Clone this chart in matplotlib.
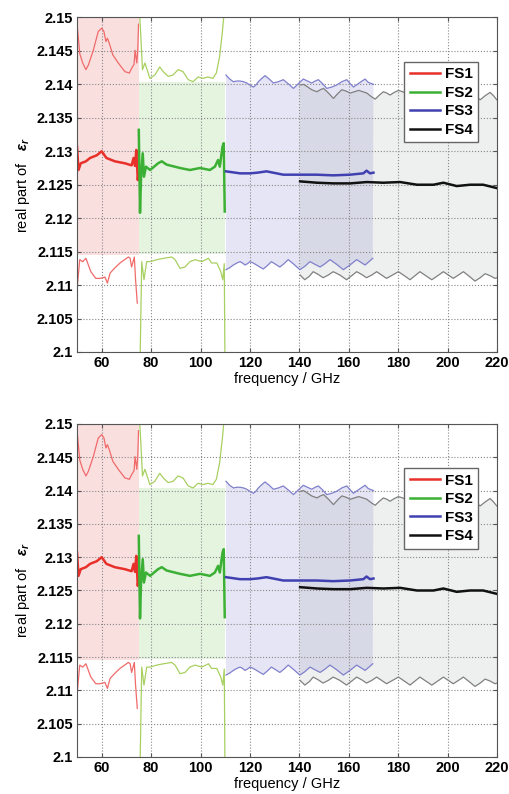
import numpy as np
import matplotlib.pyplot as plt

# FS1 (50-75 GHz)
fs1_mean_f = [50, 50.6, 51.5, 53.6, 55.3, 58, 60, 61.9, 65.3, 69.4, 72.1, 72.9, 73.5, 74, 74.6, 75]
fs1_mean = [2.1307, 2.1272, 2.1282, 2.1285, 2.1290, 2.1294, 2.1300, 2.1290, 2.1285, 2.1282, 2.1279, 2.1290, 2.1278, 2.1302, 2.1257, 2.1270]
fs1_up_f = [50, 51.1, 52.3, 53.6, 54.6, 56.6, 58.6, 60, 60.9, 61.7, 62.3, 63.1, 64.5, 66.7, 69.4, 71.2, 72.1, 73.1, 73.5, 74.2, 74.6, 74.9]
fs1_up = [2.1491, 2.1446, 2.1432, 2.1422, 2.1429, 2.1451, 2.1479, 2.1484, 2.1479, 2.1464, 2.1469, 2.1461, 2.1444, 2.1432, 2.1419, 2.1417, 2.1424, 2.1430, 2.1451, 2.1432, 2.1452, 2.1490]
fs1_lo_f = [50, 51.1, 52.3, 53.6, 55.6, 57.6, 59.3, 61.3, 62.3, 63.4, 65.4, 67.4, 70.8, 71.5, 72.1, 73.2, 73.7, 74.4]
fs1_lo = [2.1093, 2.1138, 2.1135, 2.1140, 2.1120, 2.1110, 2.1110, 2.1112, 2.1103, 2.1118, 2.1126, 2.1133, 2.1142, 2.1140, 2.1127, 2.1142, 2.1108, 2.1073]
fs1_fill = [2.1145, 2.1505]

# FS2 (75-110 GHz)
fs2_mean_f = [75, 75.5, 75.9, 76.6, 77.1, 77.9, 79.6, 82.8, 84.3, 86.3, 91.7, 95.7, 99.8, 103.8, 105.8, 107.1, 107.8, 108.9, 109.4, 109.8]
fs2_mean = [2.1332, 2.1208, 2.1260, 2.1297, 2.1262, 2.1277, 2.1272, 2.1282, 2.1285, 2.1280, 2.1275, 2.1272, 2.1275, 2.1272, 2.1277, 2.1287, 2.1277, 2.1307, 2.1312, 2.1210]
fs2_up_f = [75.1, 75.7, 76.5, 77.5, 79.5, 81.5, 83.5, 84.9, 86.9, 88.9, 90.9, 92.9, 95, 97, 99, 101, 103, 105, 106.4, 107.7, 108.8, 109.3, 109.8]
fs2_up = [2.1520, 2.1481, 2.1422, 2.1432, 2.1409, 2.1414, 2.1426, 2.1419, 2.1412, 2.1414, 2.1422, 2.1419, 2.1407, 2.1404, 2.1411, 2.1409, 2.1411, 2.1409, 2.1417, 2.1441, 2.1477, 2.1497, 2.1520]
fs2_lo_f = [75.5, 76.2, 77.1, 78.2, 79.6, 82.3, 85, 88.3, 89.7, 91.7, 93.7, 95.7, 97.8, 100.5, 103.2, 104.5, 106.6, 108.2, 109, 109.6, 109.9]
fs2_lo = [2.0980, 2.1135, 2.1108, 2.1135, 2.1135, 2.1138, 2.1140, 2.1142, 2.1138, 2.1125, 2.1127, 2.1135, 2.1138, 2.1135, 2.1140, 2.1133, 2.1133, 2.1120, 2.1108, 2.1132, 2.0980]
fs2_fill = [2.1147, 2.1404]

# FS3 (110-170 GHz)
fs3_up_f = [110.3, 111.8, 113.3, 114.7, 116, 117.4, 118.7, 120, 121.4, 122.4, 123.4, 124.8, 126.1, 127.8, 129.5, 131.5,
            133.5, 135.5, 137.6, 139.6, 141.6, 143.3, 145, 146.4, 147.7, 149.4, 151.1, 153.1, 155.1, 157.2, 159.2,
            160.6, 161.9, 164.2, 166.6, 167.9, 170]
fs3_up = [2.1414, 2.1408, 2.1404, 2.1405, 2.1405, 2.1404, 2.1402, 2.1399, 2.1396, 2.1399, 2.1404, 2.1409, 2.1413, 2.1408,
          2.1402, 2.1404, 2.1407, 2.1401, 2.1394, 2.1401, 2.1408, 2.1405, 2.1402, 2.1405, 2.1407, 2.1401, 2.1394,
          2.1396, 2.1399, 2.1404, 2.1407, 2.1401, 2.1396, 2.1402, 2.1408, 2.1403, 2.1400]
fs3_lo_f = [110.3, 111.8, 113.3, 114.7, 116, 117, 118, 119, 120, 121.3, 122.7, 124, 125.4, 127, 128.7, 130.4, 132.1,
            133.8, 135.5, 137.8, 140.2, 142.2, 144.3, 146.3, 148.4, 150.4, 152.4, 155.1, 157.8, 160.5, 163.2, 164.9,
            166.6, 168.2, 169.7]
fs3_lo = [2.1123, 2.1126, 2.1130, 2.1133, 2.1135, 2.1133, 2.1130, 2.1132, 2.1135, 2.1133, 2.1130, 2.1127, 2.1124,
          2.1129, 2.1135, 2.1131, 2.1127, 2.1132, 2.1138, 2.1131, 2.1123, 2.1128, 2.1135, 2.1131, 2.1127, 2.1132,
          2.1138, 2.1131, 2.1123, 2.1130, 2.1138, 2.1134, 2.1130, 2.1135, 2.1140]
fs3_mean_f = [110.3, 116, 120, 123, 126.7, 133.5, 140.2, 147, 153.7, 160.5, 165.9, 167.2, 168.6, 170]
fs3_mean = [2.1270, 2.1267, 2.1267, 2.1268, 2.1270, 2.1265, 2.1265, 2.1265, 2.1264, 2.1265, 2.1267, 2.1271, 2.1267, 2.1268]

# FS4 (140-220 GHz)
fs4_up_f = [140.3, 141.7, 143, 145, 147.1, 148.5, 149.8, 151.8, 153.8, 155.5, 157.2, 158.9, 160.6, 162.3, 164, 165.7,
            167.3, 169, 170.7, 172.4, 174, 175.4, 176.7, 178.4, 180.1, 181.8, 183.5, 184.9, 186.2, 189.5, 192.9,
            195.6, 198.3, 201, 203.7, 205.8, 207.8, 210.5, 213.2, 215.2, 217.2, 218.6, 219.9]
fs4_up = [2.1399, 2.1400, 2.1397, 2.1392, 2.1389, 2.1392, 2.1394, 2.1387, 2.1379, 2.1386, 2.1392, 2.1390, 2.1387,
          2.1389, 2.1391, 2.1389, 2.1387, 2.1382, 2.1378, 2.1384, 2.1389, 2.1387, 2.1384, 2.1388, 2.1391, 2.1389,
          2.1386, 2.1388, 2.1389, 2.1385, 2.1380, 2.1386, 2.1391, 2.1386, 2.1380, 2.1385, 2.1390, 2.1384, 2.1377,
          2.1383, 2.1388, 2.1383, 2.1377]
fs4_lo_f = [140.3, 142.2, 144, 145.6, 147.6, 149.6, 151.7, 153.7, 156.4, 159.1, 161.2, 163.2, 165.2, 167.2, 169.3,
            171.3, 173.3, 175.3, 177.7, 180.1, 182.5, 184.8, 186.8, 188.8, 191.2, 193.6, 196, 198.3, 200.3, 202.3,
            204.4, 206.4, 208.8, 211.1, 213.2, 215.2, 217.2, 219.2, 220]
fs4_lo = [2.1115, 2.1108, 2.1113, 2.1120, 2.1116, 2.1111, 2.1115, 2.1120, 2.1115, 2.1108, 2.1114, 2.1120, 2.1116,
          2.1111, 2.1115, 2.1120, 2.1115, 2.1110, 2.1115, 2.1120, 2.1114, 2.1108, 2.1114, 2.1120, 2.1114, 2.1108,
          2.1114, 2.1120, 2.1115, 2.1110, 2.1115, 2.1120, 2.1113, 2.1106, 2.1111, 2.1117, 2.1114, 2.1110, 2.1111]
fs4_mean_f = [140.3, 147.1, 153.8, 160.6, 167.3, 174, 180.8, 187.6, 194.3, 198.3, 203.7, 209.1, 214.4, 219.9]
fs4_mean = [2.1255, 2.1253, 2.1252, 2.1252, 2.1254, 2.1253, 2.1254, 2.1250, 2.1250, 2.1253, 2.1248, 2.1250, 2.1250, 2.1245]

xticks = [60, 80, 100, 120, 140, 160, 180, 200, 220]
yticks = [2.1, 2.105, 2.11, 2.115, 2.12, 2.125, 2.13, 2.135, 2.14, 2.145, 2.15]
ytick_labels = ['2.1', '2.105', '2.11', '2.115', '2.12', '2.125', '2.13', '2.135', '2.14', '2.145', '2.15']

plt.rcParams['font.family'] = ['Liberation Sans', 'DejaVu Sans']
plt.rcParams['font.weight'] = 'bold'
plt.rcParams['mathtext.fontset'] = 'custom'
plt.rcParams['mathtext.it'] = 'Liberation Sans:italic'

fig = plt.figure(figsize=(5.1, 7.94), dpi=100)
ax1 = fig.add_axes([0.151, 0.5567, 0.8235, 0.4213])
ax2 = fig.add_axes([0.151, 0.0466, 0.8235, 0.4194])


def band(ax, up_f, up, lo_f, lo, color, alpha):
    ax.fill(np.r_[up_f, lo_f[::-1]], np.r_[up, lo[::-1]], color=color, alpha=alpha, lw=0)


def panel(ax):
    ax.fill_between([50, 75], fs1_fill[0], fs1_fill[1], color='#e85050', alpha=0.18, lw=0)
    ax.fill_between([75, 110], fs2_fill[0], fs2_fill[1], color='#88d070', alpha=0.22, lw=0)
    band(ax, fs3_up_f, fs3_up, fs3_lo_f, fs3_lo, '#6868c8', 0.17)
    band(ax, fs4_up_f, fs4_up, fs4_lo_f, fs4_lo, '#8a9090', 0.14)

    ax.plot(fs1_up_f, fs1_up, color='#f06a6a', lw=0.9)
    ax.plot(fs1_lo_f, fs1_lo, color='#f06a6a', lw=0.9)
    ax.plot(fs2_up_f, fs2_up, color='#a8d060', lw=0.9)
    ax.plot(fs2_lo_f, fs2_lo, color='#a8d060', lw=0.9)
    ax.plot(fs3_up_f, fs3_up, color='#8080cc', lw=0.9)
    ax.plot(fs3_lo_f, fs3_lo, color='#8080cc', lw=0.9)
    ax.plot(fs4_up_f, fs4_up, color='#808080', lw=0.9)
    ax.plot(fs4_lo_f, fs4_lo, color='#808080', lw=0.9)

    ax.plot(fs1_mean_f, fs1_mean, color='#e8302a', lw=1.8, label='FS1')
    ax.plot(fs2_mean_f, fs2_mean, color='#3cb034', lw=1.8, label='FS2')
    ax.plot(fs3_mean_f, fs3_mean, color='#4040b0', lw=1.8, label='FS3')
    ax.plot(fs4_mean_f, fs4_mean, color='#111111', lw=1.8, label='FS4')

    ax.set_xlim(50, 220)
    ax.set_ylim(2.1, 2.15)
    ax.set_xticks(xticks)
    ax.set_yticks(yticks)
    ax.set_yticklabels(ytick_labels)
    ax.tick_params(direction='in', top=True, right=True, labelsize=10.5, length=3, pad=3, color='#555555')
    ax.grid(True, linestyle=':', color='#888888', lw=0.8)
    for s in ax.spines.values():
        s.set_color('#555555')
    ax.set_xlabel('frequency / GHz', fontsize=10.5, labelpad=1)
    ax.set_ylabel('real part of   $\\varepsilon_r$', fontsize=10.5, labelpad=3)
    leg = ax.legend(loc='upper right', bbox_to_anchor=(0.955, 0.867), fontsize=11,
                    fancybox=False, framealpha=1, edgecolor='#666666', borderaxespad=0,
                    handlelength=2.0, labelspacing=0.3, borderpad=0.35, handletextpad=0.3)
    leg.get_frame().set_linewidth(1.0)


panel(ax1)
panel(ax2)

fig.savefig('out.png', dpi=100)
